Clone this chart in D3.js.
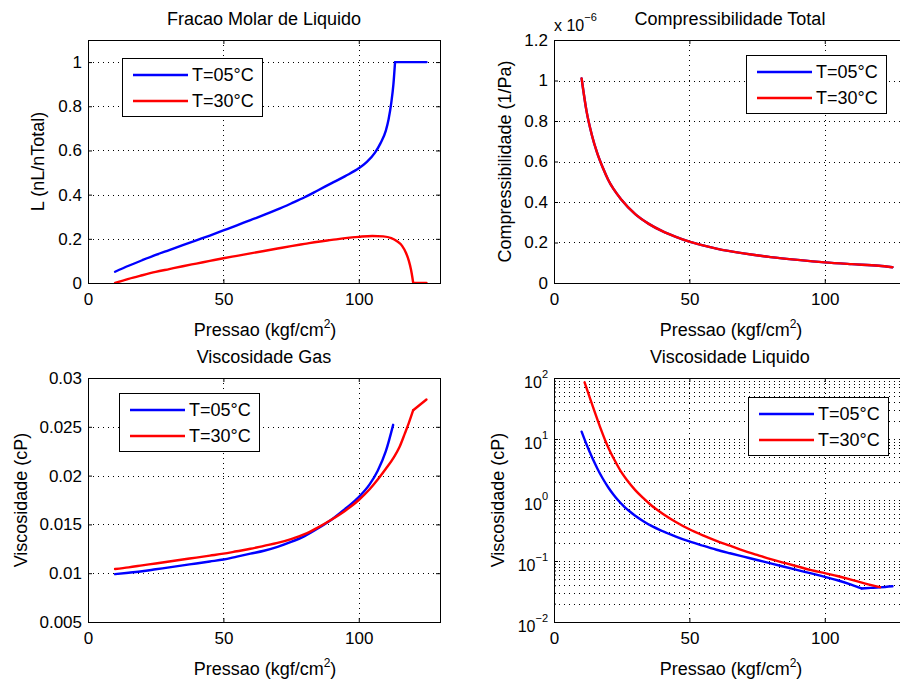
<!DOCTYPE html>
<html>
<head>
<meta charset="utf-8">
<script src="https://cdn.jsdelivr.net/npm/d3@7"></script>
<style>
body { margin: 0; background: #fff; }
text { font-family: "Liberation Sans", Arial, Helvetica, sans-serif; fill: #000; }
</style>
</head>
<body>
<div id="chart"></div>
<script>
// ---- data ----
var labels = ["T=05°C", "T=30°C"];
var colors = ["#0000ff", "#ff0000"];
var xTicks = [0, 50, 100];

// Fracao Molar de Liquido
var liqP05 = [10, 15, 20, 25, 30, 35, 40, 45, 50, 55, 60, 65, 70, 75, 80, 85, 90, 95, 100, 103, 106, 108, 110, 111, 112, 112.8, 113.4, 125];
var liq05  = [0.051, 0.078, 0.103, 0.127, 0.149, 0.171, 0.193, 0.215, 0.238, 0.261, 0.285, 0.308, 0.333, 0.36, 0.388, 0.42, 0.452, 0.484, 0.519, 0.548, 0.59, 0.632, 0.69, 0.74, 0.815, 0.9, 1.0, 1.0];
var liqP30 = [10, 15, 20, 25, 30, 35, 40, 45, 50, 55, 60, 65, 70, 75, 80, 85, 90, 95, 100, 105, 109, 112, 114, 116, 117.5, 118.5, 119.3, 119.8, 120.1, 125];
var liq30  = [0, 0.019, 0.035, 0.05, 0.063, 0.076, 0.088, 0.1, 0.112, 0.123, 0.134, 0.145, 0.156, 0.167, 0.177, 0.187, 0.195, 0.203, 0.209, 0.213, 0.211, 0.203, 0.19, 0.168, 0.135, 0.1, 0.06, 0.025, 0, 0];

// Compressibilidade Total (x 1e-6)
var compP   = [10.2, 12, 14, 16, 18, 20, 25, 30, 35, 40, 45, 50, 60, 70, 80, 90, 100, 110, 120, 125];
var comp05  = [1.01, 0.85, 0.73, 0.64, 0.57, 0.51, 0.41, 0.34, 0.292, 0.256, 0.228, 0.204, 0.17, 0.146, 0.128, 0.114, 0.102, 0.093, 0.085, 0.078];
var comp30  = [1.01, 0.85, 0.73, 0.64, 0.57, 0.51, 0.41, 0.34, 0.292, 0.256, 0.228, 0.204, 0.17, 0.146, 0.128, 0.114, 0.102, 0.093, 0.085, 0.078];

// Viscosidade Gas (cP)
var gasP05 = [10, 15, 20, 25, 30, 35, 40, 45, 50, 55, 60, 65, 70, 75, 80, 85, 90, 95, 100, 104, 107, 110, 112.7];
var gas05  = [0.0099, 0.01005, 0.0102, 0.0104, 0.0106, 0.0108, 0.011, 0.0112, 0.0114, 0.0117, 0.012, 0.0123, 0.0127, 0.0132, 0.0138, 0.0146, 0.0155, 0.0166, 0.0178, 0.0191, 0.0205, 0.0225, 0.0252];
var gasP30 = [10, 15, 20, 25, 30, 35, 40, 45, 50, 55, 60, 65, 70, 75, 80, 85, 90, 95, 100, 104, 107, 110, 113, 115, 117, 118.5, 120.1, 125];
var gas30  = [0.01043, 0.0106, 0.0108, 0.011, 0.0112, 0.0114, 0.0116, 0.0118, 0.012, 0.01225, 0.0125, 0.0128, 0.0131, 0.0135, 0.014, 0.0147, 0.0155, 0.0164, 0.0175, 0.0186, 0.0196, 0.0207, 0.0219, 0.0229, 0.0243, 0.0254, 0.0267, 0.0278];

// Viscosidade Liquido (cP, log)
var vlP05 = [10.2, 12, 14, 16, 18, 20, 22, 24, 26, 28, 30, 33, 36, 40, 45, 50, 55, 60, 65, 70, 75, 80, 85, 90, 95, 100, 105, 110, 113.6, 117, 120.4, 125];
var vl05  = [13.2, 8.18, 5.05, 3.29, 2.25, 1.62, 1.22, 0.953, 0.774, 0.647, 0.553, 0.45, 0.376, 0.31, 0.252, 0.209, 0.178, 0.153, 0.134, 0.118, 0.104, 0.0914, 0.0805, 0.071, 0.0625, 0.0551, 0.0479, 0.0407, 0.0355, 0.0362, 0.037, 0.0385];
var vlP30 = [11.3, 13, 15, 17, 19, 21, 23, 25, 27, 30, 33, 36, 40, 45, 50, 55, 60, 65, 70, 75, 80, 85, 90, 95, 100, 105, 110, 115, 120.4];
var vl30  = [85, 51, 28, 15.8, 9.3, 5.9, 4.0, 2.8, 2.1, 1.45, 1.07, 0.813, 0.603, 0.437, 0.331, 0.263, 0.214, 0.178, 0.148, 0.126, 0.107, 0.0933, 0.0813, 0.0708, 0.0631, 0.0562, 0.049, 0.0427, 0.0372];

var svg = d3.select("#chart").append("svg")
    .attr("width", 900)
    .attr("height", 680);

function zip(xs, ys) {
    return xs.map(function(v, i) { return [v, ys[i]]; });
}

// split a series into smooth pieces at the corner points
function pieces(pts, corners) {
    var out = [], cur = [];
    pts.forEach(function(p) {
        cur.push(p);
        if (corners.indexOf(p[0]) >= 0) { out.push(cur); cur = [p]; }
    });
    if (cur.length > 1) out.push(cur);
    return out;
}

function panel(o) {
    var x = d3.scaleLinear().domain([0, 130]).range([o.left, o.right]);
    var y = (o.log ? d3.scaleLog() : d3.scaleLinear()).domain(o.yDomain).range([o.bottom, o.top]);
    var g = svg.append("g");

    // grid (dotted)
    var grid = g.append("g")
        .attr("stroke", "#000")
        .attr("stroke-width", 1)
        .attr("shape-rendering", "crispEdges")
        .attr("stroke-dasharray", "1,4");
    grid.selectAll("line.vg").data(xTicks.slice(1)).enter().append("line")
        .attr("class", "vg")
        .attr("x1", function(d) { return Math.round(x(d)) + 0.5; })
        .attr("x2", function(d) { return Math.round(x(d)) + 0.5; })
        .attr("y1", o.top).attr("y2", o.bottom);
    grid.selectAll("line.hg").data(o.yGrid).enter().append("line")
        .attr("class", "hg")
        .attr("x1", o.left).attr("x2", o.right)
        .attr("y1", function(d) { return Math.round(y(d)) + 0.5; })
        .attr("y2", function(d) { return Math.round(y(d)) + 0.5; });

    // series
    var clipId = "clip" + o.id;
    g.append("clipPath").attr("id", clipId).append("rect")
        .attr("x", o.left).attr("y", o.top)
        .attr("width", o.right - o.left).attr("height", o.bottom - o.top);
    var line = d3.line()
        .curve(d3.curveMonotoneX)
        .x(function(d) { return x(d[0]); })
        .y(function(d) { return y(d[1]); });
    o.series.forEach(function(s, i) {
        var parts = pieces(s, (o.corners && o.corners[i]) || []);
        g.append("g").attr("clip-path", "url(#" + clipId + ")")
            .selectAll("path").data(parts).enter().append("path")
            .attr("fill", "none")
            .attr("stroke", colors[i])
            .attr("stroke-width", 2.4)
            .attr("stroke-linejoin", "round")
            .attr("stroke-linecap", "round")
            .attr("d", line);
    });

    // axes, ticks pointing inward on every side
    g.append("g").attr("transform", "translate(0," + o.bottom + ")")
        .call(d3.axisBottom(x).tickValues(xTicks).tickSize(-4).tickSizeOuter(0).tickPadding(10));
    g.append("g").attr("transform", "translate(0," + o.top + ")")
        .call(d3.axisTop(x).tickValues(xTicks).tickSize(-4).tickSizeOuter(0).tickFormat(""));
    var yl = d3.axisLeft(y).tickValues(o.yTicks).tickSize(-4).tickSizeOuter(0).tickPadding(6);
    var yr = d3.axisRight(y).tickValues(o.yTicks).tickSize(-4).tickSizeOuter(0).tickFormat("");
    if (o.log) yl.tickFormat("");
    else yl.tickFormat(o.yFormat);
    g.append("g").attr("transform", "translate(" + o.left + ",0)").call(yl);
    g.append("g").attr("transform", "translate(" + o.right + ",0)").call(yr);
    if (o.log) {
        g.append("g").attr("transform", "translate(" + o.left + ",0)")
            .call(d3.axisLeft(y).tickValues(o.yMinor).tickSize(-2).tickSizeOuter(0).tickFormat(""));
        var lt = g.selectAll("text.logtick").data(o.yTicks).enter().append("text")
            .attr("x", o.left - 6)
            .attr("y", function(d) { return y(d) + 10; })
            .attr("text-anchor", "end")
            .style("font-size", "16px");
        lt.append("tspan").text("10");
        lt.append("tspan")
            .attr("dy", -10)
            .style("font-size", "11px")
            .text(function(d) { return String(Math.round(Math.log10(d))).replace("-", "\u2212"); });
    }
    g.selectAll(".domain").remove();
    g.selectAll(".tick line").attr("stroke", "#000");
    g.selectAll(".tick text").style("font-size", "17px").attr("fill", "#000");

    g.append("rect")
        .attr("x", o.left + 0.5).attr("y", o.top + 0.5)
        .attr("width", o.right - o.left).attr("height", o.bottom - o.top)
        .attr("fill", "none").attr("stroke", "#000").attr("stroke-width", 1);

    // title and labels
    g.append("text")
        .attr("x", (o.left + o.right) / 2).attr("y", o.top - 15)
        .attr("text-anchor", "middle").style("font-size", "18px")
        .text(o.title);
    var xl = g.append("text")
        .attr("x", (o.left + o.right) / 2 + 1).attr("y", o.bottom + 53)
        .attr("text-anchor", "middle").style("font-size", "18px");
    xl.append("tspan").text("Pressao (kgf/cm");
    xl.append("tspan").attr("dy", -8).style("font-size", "12px").text("2");
    xl.append("tspan").attr("dy", 8).text(")");
    g.append("text")
        .attr("transform", "translate(" + o.ylabelX + "," + (o.top + o.bottom) / 2 + ") rotate(-90)")
        .attr("text-anchor", "middle").attr("dy", "0.35em")
        .style("font-size", "18px")
        .text(o.ylabel);

    // legend
    var lg = g.append("g").attr("transform", "translate(" + o.legend[0] + "," + o.legend[1] + ")");
    lg.append("rect")
        .attr("x", 0.5).attr("y", 0.5).attr("width", 140).attr("height", 58)
        .attr("fill", "#fff").attr("stroke", "#000");
    labels.forEach(function(name, i) {
        var yy = 17 + i * 26;
        lg.append("line")
            .attr("x1", 11).attr("x2", 66).attr("y1", yy).attr("y2", yy)
            .attr("stroke", colors[i]).attr("stroke-width", 2.4);
        lg.append("text")
            .attr("x", 70).attr("y", yy).attr("dy", "0.35em")
            .style("font-size", "18px")
            .text(name);
    });
    return g;
}

var fmt = function(d) { return d3.format("~g")(+d.toFixed(4)); };

panel({
    id: 1, left: 88, right: 440, top: 40, bottom: 283,
    yDomain: [0, 1.1], yTicks: [0, 0.2, 0.4, 0.6, 0.8, 1], yGrid: [0.2, 0.4, 0.6, 0.8, 1],
    yFormat: fmt,
    series: [zip(liqP05, liq05), zip(liqP30, liq30)],
    corners: [[113.4], [120.1]],
    title: "Fracao Molar de Liquido", ylabel: "L (nL/nTotal)", ylabelX: 38,
    legend: [122, 58]
});

var p2 = panel({
    id: 2, left: 554, right: 906, top: 40, bottom: 283,
    yDomain: [0, 1.2], yTicks: [0, 0.2, 0.4, 0.6, 0.8, 1, 1.2], yGrid: [0.2, 0.4, 0.6, 0.8, 1],
    yFormat: fmt,
    series: [zip(compP, comp05), zip(compP, comp30)],
    title: "Compressibilidade Total", ylabel: "Compressibilidade (1/Pa)", ylabelX: 505,
    legend: [746, 55]
});
var ex = p2.append("text").attr("x", 554).attr("y", 31).style("font-size", "16px");
ex.append("tspan").text("x 10");
ex.append("tspan").attr("dy", -10).style("font-size", "11px").text("\u22126");

panel({
    id: 3, left: 88, right: 440, top: 378, bottom: 622,
    yDomain: [0.005, 0.03], yTicks: [0.005, 0.01, 0.015, 0.02, 0.025, 0.03], yGrid: [0.01, 0.015, 0.02, 0.025],
    yFormat: fmt,
    series: [zip(gasP05, gas05), zip(gasP30, gas30)],
    corners: [[], [120.1]],
    title: "Viscosidade Gas", ylabel: "Viscosidade (cP)", ylabelX: 21,
    legend: [119, 393]
});

var minor = [];
[0.01, 0.1, 1, 10].forEach(function(dec) {
    for (var k = 2; k <= 9; k++) minor.push(dec * k);
});
panel({
    id: 4, left: 554, right: 906, top: 378, bottom: 622, log: true,
    yDomain: [0.01, 100], yTicks: [0.01, 0.1, 1, 10, 100], yMinor: minor, yGrid: [0.1, 1, 10].concat(minor),
    series: [zip(vlP05, vl05), zip(vlP30, vl30)],
    corners: [[113.6], []],
    title: "Viscosidade Liquido", ylabel: "Viscosidade (cP)", ylabelX: 498,
    legend: [748, 397]
});
</script>
</body>
</html>
